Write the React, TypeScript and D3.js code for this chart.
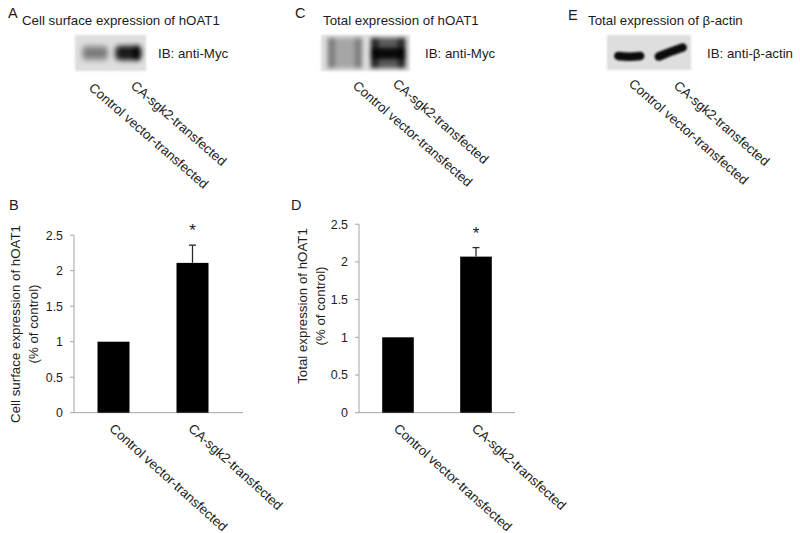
import * as d3 from "d3";

// categories shared by every panel
const groups = ["Control vector-transfected", "CA-sgk2-transfected"];

// B: cell surface expression (fold of control)
const surfaceValues = [1, 2.11];
const surfaceErrors = [0, 0.25];
// D: total expression (fold of control)
const totalValues = [1, 2.07];
const totalErrors = [0, 0.12];
const significant = [false, true];

const yTicks = [0, 0.5, 1, 1.5, 2, 2.5];
const yTickLabels = ["0", "0.5", "1", "1.5", "2", "2.5"];

// relative darkness of the western blot bands, per lane
const surfaceBlot = [0.5, 0.97];
const totalBlot = [0.42, 1];
const actinBlot = [0.95, 0.95];

const FONT = "'Liberation Sans', Arial, Helvetica, sans-serif";
const INK = "#1c1c1c";
const AXIS = "#a4a4a4";
const FS = 13.3;

type BarPanelProps = {
  letter: string;
  letterX: number;
  x0: number;
  x1: number;
  axisEnd: number;
  yTop: number;
  yBottom: number;
  values: number[];
  errors: number[];
  yLabel: string;
  yLabelX: number;
  yLabelY: number;
};

const BarPanel = ({ letter, letterX, x0, x1, axisEnd, yTop, yBottom, values, errors, yLabel, yLabelX, yLabelY }: BarPanelProps) => {
  const x = d3.scaleBand<string>().domain(groups).range([x0, x1]).paddingInner(0.595).paddingOuter(0.2975);
  const y = d3.scaleLinear().domain([0, 2.5]).range([yBottom, yTop]);
  const bw = x.bandwidth();

  return (
    <g fontFamily={FONT} fill={INK}>
      <text x={letterX} y={210} fontSize={14.5}>{letter}</text>

      {/* y axis */}
      <line x1={x0} x2={x0} y1={y(2.5)} y2={y(0)} stroke={AXIS} />
      {yTicks.map((t, i) => (
        <g key={i}>
          <line x1={x0 - 4} x2={x0} y1={y(t)} y2={y(t)} stroke={AXIS} />
          <text x={x0 - 11} y={y(t)} dy="0.36em" textAnchor="end" fontSize={12.4}>{yTickLabels[i]}</text>
        </g>
      ))}
      <line x1={x0} x2={axisEnd} y1={y(0)} y2={y(0)} stroke={AXIS} />

      <text transform={`translate(${yLabelX},${yLabelY}) rotate(-90)`} textAnchor="middle" fontSize={13.3}>
        {yLabel}
      </text>
      <text transform={`translate(${yLabelX + 18},${yLabelY}) rotate(-90)`} textAnchor="middle" fontSize={13.3}>
        (% of control)
      </text>

      {groups.map((g, i) => {
        const cx = (x(g) ?? 0) + bw / 2;
        const top = y(values[i] + errors[i]);
        return (
          <g key={g}>
            <rect x={x(g)} y={y(values[i])} width={bw} height={y(0) - y(values[i])} fill="#000" />
            {errors[i] > 0 && (
              <g stroke="#2a2a2a" strokeWidth={1.3}>
                <line x1={cx} x2={cx} y1={y(values[i])} y2={top} />
                <line x1={cx - 3.5} x2={cx + 3.5} y1={top} y2={top} />
              </g>
            )}
            {significant[i] && (
              <text x={cx} y={top - 9} textAnchor="middle" fontSize={17}>*</text>
            )}
            <text
              transform={`translate(${cx - 5},${y(0) + 17}) rotate(42)`}
              fontSize={FS}
            >
              {g}
            </text>
          </g>
        );
      })}
    </g>
  );
};

type BlotPanelProps = {
  id: string;
  letter: string;
  letterX: number;
  letterY: number;
  title: string;
  titleX: number;
  bx: number;
  bw: number;
  by: number;
  bh: number;
  lanePad: [number, number];
  density: number[];
  kind: "smear" | "wide" | "actin";
  ib: string;
  ibX: number;
  labelRange: [number, number];
  labelY: [number, number];
};

const BlotPanel = (p: BlotPanelProps) => {
  const lane = d3
    .scaleBand<string>()
    .domain(groups)
    .range([p.bx + 4, p.bx + p.bw - 2])
    .paddingInner(p.lanePad[0])
    .paddingOuter(p.lanePad[1]);
  const lw = lane.bandwidth();
  const labelX = d3.scalePoint<string>().domain(groups).range(p.labelRange);
  const mid = p.by + p.bh / 2;
  const region = { x: p.bx - 10, y: p.by - 10, width: p.bw + 20, height: p.bh + 20 };

  const bands = groups.map((g, i) => {
    const l = lane(g) ?? 0;
    const d = p.density[i];
    if (p.kind === "smear") {
      return (
        <g key={g} filter={`url(#${p.id}-b3)`}>
          <rect x={l} y={mid - 8} width={lw} height={16} rx={5} fill="#000" opacity={d * 0.55} />
          {d > 0.8 && (
            <>
              <rect x={l + 2} y={mid - 6} width={lw - 4} height={12} rx={5} fill="#000" opacity={0.75} />
              <ellipse cx={l + lw * 0.85} cy={mid} rx={4} ry={8} fill="#000" opacity={0.9} />
            </>
          )}
          {d <= 0.8 && (
            <rect x={l + 2} y={mid - 4} width={lw - 4} height={8} rx={4} fill="#000" opacity={0.25} />
          )}
        </g>
      );
    }
    if (p.kind === "wide") {
      const colW = lw * 0.22;
      return (
        <g key={g} filter={`url(#${p.id}-b2)`}>
          <rect x={l} y={p.by + 3} width={lw} height={p.bh - 6} fill="#000" opacity={d * 0.6} />
          <rect x={l} y={p.by + 3} width={colW} height={p.bh - 6} fill="#000" opacity={d * 0.55} />
          <rect x={l + lw - colW} y={p.by + 3} width={colW} height={p.bh - 6} fill="#000" opacity={d * 0.55} />
          {d > 0.8 && (
            <rect x={l} y={mid - 5} width={lw} height={11} fill="#000" opacity={0.9} />
          )}
        </g>
      );
    }
    // actin: curved dark bands
    const path =
      i === 0
        ? `M${l + 4},${mid + 3.5} Q${l + lw / 2},${mid + 5} ${l + lw - 4},${mid + 3.5}`
        : `M${l + 3},${mid + 4} Q${l + lw * 0.45},${mid - 0.5} ${l + lw - 3},${mid - 5}`;
    return (
      <path
        key={g}
        d={path}
        fill="none"
        stroke="#000"
        strokeWidth={8.5}
        strokeLinecap="round"
        opacity={d}
        filter={`url(#${p.id}-b1)`}
      />
    );
  });

  return (
    <g fontFamily={FONT} fill={INK}>
      <defs>
        <filter id={`${p.id}-b1`} filterUnits="userSpaceOnUse" {...region}>
          <feGaussianBlur stdDeviation={1.3} />
        </filter>
        <filter id={`${p.id}-b2`} filterUnits="userSpaceOnUse" {...region}>
          <feGaussianBlur stdDeviation={2.2} />
        </filter>
        <filter id={`${p.id}-b3`} filterUnits="userSpaceOnUse" {...region}>
          <feGaussianBlur stdDeviation={2.6} />
        </filter>
        <filter id={`${p.id}-bg`} filterUnits="userSpaceOnUse" {...region}>
          <feGaussianBlur stdDeviation={0.8} />
        </filter>
      </defs>
      <text x={p.letterX} y={p.letterY} fontSize={14.5}>{p.letter}</text>
      <text x={p.titleX} y={25} fontSize={FS}>{p.title}</text>
      <rect x={p.bx} y={p.by} width={p.bw} height={p.bh} fill="#dedede" filter={`url(#${p.id}-bg)`} />
      {bands}
      <text x={p.ibX} y={mid + 5} fontSize={FS}>{p.ib}</text>
      {groups.map((g, i) => (
        <text key={g} transform={`translate(${labelX(g)},${p.labelY[i]}) rotate(41)`} fontSize={FS}>
          {g}
        </text>
      ))}
    </g>
  );
};

export default function App() {
  return (
    <svg width={800} height={533} style={{ position: "absolute", left: 0, top: 0, background: "#fff" }}>
      <BlotPanel
        id="a"
        letter="A"
        letterX={8}
        letterY={18}
        title="Cell surface expression of hOAT1"
        titleX={22}
        bx={75}
        bw={71}
        by={35}
        bh={36}
        lanePad={[0.18, 0.08]}
        density={surfaceBlot}
        kind="smear"
        ib="IB: anti-Myc"
        ibX={158}
        labelRange={[88, 130]}
        labelY={[89, 87]}
      />
      <BlotPanel
        id="c"
        letter="C"
        letterX={295}
        letterY={18}
        title="Total expression of hOAT1"
        titleX={323}
        bx={321}
        bw={89}
        by={35}
        bh={36}
        lanePad={[0.2, 0.06]}
        density={totalBlot}
        kind="wide"
        ib="IB: anti-Myc"
        ibX={425}
        labelRange={[352, 392]}
        labelY={[87, 85]}
      />
      <BlotPanel
        id="e"
        letter="E"
        letterX={568}
        letterY={20}
        title="Total expression of β-actin"
        titleX={588}
        bx={607}
        bw={84}
        by={35}
        bh={35}
        lanePad={[0.28, 0.08]}
        density={actinBlot}
        kind="actin"
        ib="IB: anti-β-actin"
        ibX={707}
        labelRange={[628, 673]}
        labelY={[85, 87]}
      />
      <BarPanel
        letter="B"
        letterX={9}
        x0={74}
        x1={232}
        axisEnd={243}
        yTop={235.2}
        yBottom={412.7}
        values={surfaceValues}
        errors={surfaceErrors}
        yLabel="Cell surface expression of hOAT1"
        yLabelX={20}
        yLabelY={324}
      />
      <BarPanel
        letter="D"
        letterX={291}
        x0={359}
        x1={515}
        axisEnd={515}
        yTop={224.2}
        yBottom={412.7}
        values={totalValues}
        errors={totalErrors}
        yLabel="Total expression of hOAT1"
        yLabelX={307}
        yLabelY={306}
      />
    </svg>
  );
}
